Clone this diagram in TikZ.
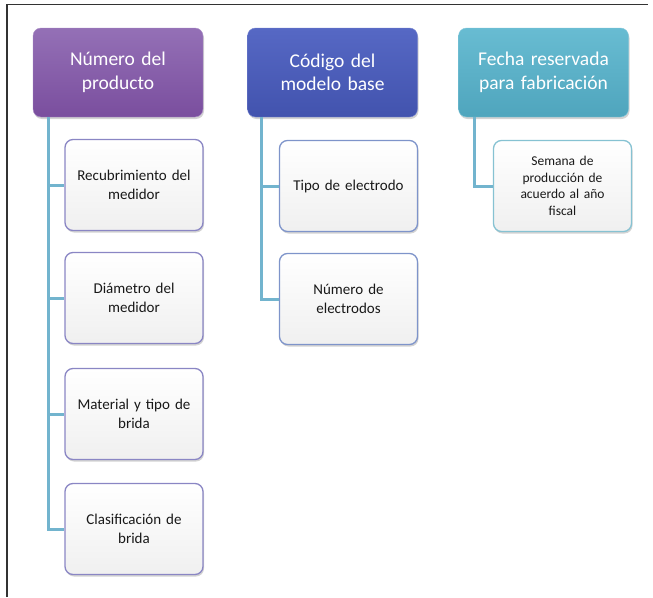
\documentclass[tikz,border=0pt]{standalone}
\usepackage{fontspec}
\setmainfont{Carlito}
\usetikzlibrary{shadows,calc}
\definecolor{conn}{HTML}{72B4CE}
\definecolor{purA}{HTML}{9470B6}
\definecolor{purB}{HTML}{7A4E9E}
\definecolor{bluA}{HTML}{5668C4}
\definecolor{bluB}{HTML}{4253AE}
\definecolor{tealA}{HTML}{68BCD2}
\definecolor{tealB}{HTML}{4FA5BD}
\definecolor{kidP}{HTML}{8A86C4}
\definecolor{kidB}{HTML}{7E94CA}
\definecolor{kidT}{HTML}{86C2D2}
\begin{document}
\begin{tikzpicture}[x=1pt,y=-1pt,
  parent/.style={rounded corners=8pt, minimum width=170pt, minimum height=89pt,
    text width=164pt, align=center, text=white,
    font=\fontsize{19.5}{23.5}\selectfont, inner sep=0pt,
    drop shadow={shadow xshift=1pt,shadow yshift=-2pt,opacity=0.35}},
  kid/.style={rounded corners=8pt, minimum width=138pt, minimum height=91pt,
    text width=130pt, align=center, text=black!90, line width=1.3pt,
    top color=white, bottom color=black!6,
    font=\fontsize{15}{18.5}\selectfont, inner sep=0pt,
    drop shadow={shadow xshift=1pt,shadow yshift=-2pt,opacity=0.35}},
  small/.style={font=\fontsize{13.5}{16.5}\selectfont},
  link/.style={draw=conn, line width=3pt}]
\useasboundingbox (0,0) rectangle (653,597);
\draw[black!80, line width=1.4pt] (7,597) -- (7,4.5) -- (648,4.5);

\node[parent, top color=purA, bottom color=purB, draw=purA!80!white] (p1) at (118,72.5) {Número del\\producto};
\node[parent, top color=bluA, bottom color=bluB, draw=bluA!80!white] (p2) at (332.5,72.5) {Código del\\modelo base};
\node[parent, top color=tealA, bottom color=tealB, draw=tealA!80!white] (p3) at (543.5,72.5) {Fecha reservada\\para fabricación};

\node[kid, draw=kidP] (a1) at (134,185) {Recubrimiento del\\medidor};
\node[kid, draw=kidP] (a2) at (134,298) {Diámetro del\\medidor};
\node[kid, draw=kidP] (a3) at (134,414) {Material y tipo de\\brida};
\node[kid, draw=kidP] (a4) at (134,529) {Clasificación de\\brida};

\node[kid, draw=kidB] (b1) at (348.5,186) {Tipo de electrodo};
\node[kid, draw=kidB] (b2) at (348.5,299) {Número de\\electrodos};

\node[kid, small, draw=kidT] (c1) at (562.5,186) {Semana de\\producción de\\acuerdo al año\\fiscal};

\coordinate (ta) at ($(p1.south west)+(16,0)$);
\coordinate (tb) at ($(p2.south west)+(14,0)$);
\coordinate (tc) at ($(p3.south west)+(16,0)$);

\draw[link] (ta) |- (a4.west);
\draw[link] (ta |- a1.west) -- (a1.west);
\draw[link] (ta |- a2.west) -- (a2.west);
\draw[link] (ta |- a3.west) -- (a3.west);
\draw[link] (tb) |- (b2.west);
\draw[link] (tb |- b1.west) -- (b1.west);
\draw[link] (tc) |- (c1.west);
\end{tikzpicture}
\end{document}
